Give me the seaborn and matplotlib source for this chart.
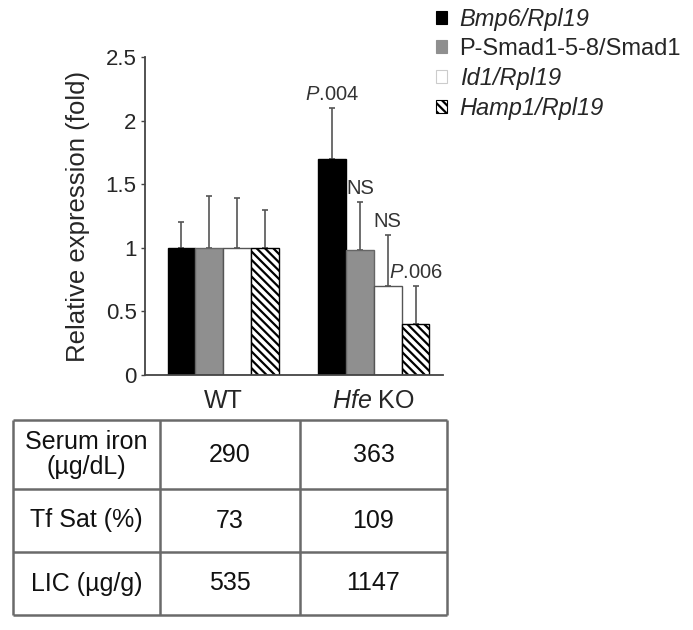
import numpy as np
import pandas as pd
import matplotlib
matplotlib.use("Agg")
import matplotlib.pyplot as plt
import seaborn as sns
from matplotlib.patches import Patch

# ---------------- data ----------------
groups = ["WT", "Hfe KO"]
group_labels = ["WT", r"$\mathit{Hfe}$ KO"]
genes = ["Bmp6/Rpl19", "P-Smad1-5-8/Smad1", "Id1/Rpl19", "Hamp1/Rpl19"]
gene_italic = [True, False, True, True]
wt_vals = [1.00, 1.00, 1.00, 1.00]
wt_err = [0.20, 0.41, 0.39, 0.30]
ko_vals = [1.70, 0.98, 0.70, 0.40]
ko_err = [0.40, 0.38, 0.40, 0.30]
ko_notes = [r"$\mathit{P}$.004", "NS", "NS", r"$\mathit{P}$.006"]
yticks = [0, 0.5, 1, 1.5, 2, 2.5]
ytick_labels = ["0", "0.5", "1", "1.5", "2", "2.5"]

table_rows = ["Serum iron\n(\u00b5g/dL)", "Tf Sat (%)", "LIC (\u00b5g/g)"]
table_wt = ["290", "73", "535"]
table_ko = ["363", "109", "1147"]

# ---------------- style ----------------
bar_colors = ["#000000", "#8f8f8f", "#ffffff", "#ffffff"]
bar_edges = ["#000000", "#666666", "#555555", "#000000"]
bar_hatches = [None, None, None, "\\\\\\\\"]
leg_edges = ["#000000", "#8f8f8f", "#cccccc", "#000000"]

sns.set_style("ticks")
plt.rcParams["font.family"] = ["Liberation Sans", "DejaVu Sans"]
plt.rcParams["mathtext.fontset"] = "custom"
plt.rcParams["mathtext.rm"] = "Liberation Sans"
plt.rcParams["mathtext.it"] = "Liberation Sans:italic"
plt.rcParams["hatch.linewidth"] = 1.6

W, H = 693, 630
fig = plt.figure(figsize=(W / 100, H / 100), dpi=100)
ax = fig.add_axes([145 / W, 1 - 375 / H, 298 / W, 318 / H])

df = pd.DataFrame({
    "group": np.repeat(groups, len(genes)),
    "gene": genes * len(groups),
    "value": wt_vals + ko_vals,
})

sns.barplot(data=df, x="group", y="value", hue="gene", hue_order=genes,
            order=groups, palette=dict(zip(genes, bar_colors)), width=0.74,
            errorbar=None, saturation=1, legend=False, ax=ax, linewidth=1.0)

errs = [wt_err, ko_err]
bar_containers = list(ax.containers)
for i, cont in enumerate(bar_containers):
    for j, bar in enumerate(cont.patches):
        bar.set_edgecolor(bar_edges[i])
        if bar_hatches[i]:
            bar.set_hatch(bar_hatches[i])
        x = bar.get_x() + bar.get_width() / 2
        y = bar.get_height()
        e = errs[j][i]
        ax.errorbar([x], [y], yerr=[[0], [e]], fmt="none", ecolor="#555555",
                    elinewidth=1.2, capsize=2.5, capthick=1.2, zorder=0.5)
        if j == 1:
            ax.annotate(ko_notes[i], (x, y + e), xytext=(0, 3),
                        textcoords="offset points", ha="center", va="bottom",
                        fontsize=14.5, color="#333333")

ax.set_ylim(0, 2.5)
ax.set_xlim(-0.52, 1.46)
ax.set_yticks(yticks)
ax.set_yticklabels(ytick_labels)
ax.set_xticks(range(len(groups)))
ax.set_xticklabels(group_labels, fontsize=18)
ax.set_xlabel("")
ax.set_ylabel("Relative expression (fold)", fontsize=18.5, labelpad=11)
ax.tick_params(axis="y", length=3, width=1, color="#444444", labelsize=16, pad=3)
ax.tick_params(axis="x", length=0, pad=10)
sns.despine(ax=ax)
for s in ["left", "bottom"]:
    ax.spines[s].set_color("#444444")
    ax.spines[s].set_linewidth(1.3)

# legend
handles = [Patch(facecolor=c, edgecolor=ec, hatch=h, linewidth=0.8)
           for c, ec, h in zip(bar_colors, leg_edges, bar_hatches)]
leg = fig.legend(handles, genes, loc="upper left",
                 bbox_to_anchor=(436 / W, 1 - 8 / H), frameon=False, fontsize=17,
                 handlelength=0.45, handleheight=0.45, handletextpad=0.55,
                 labelspacing=0.3, borderpad=0, borderaxespad=0)
for t, it in zip(leg.get_texts(), gene_italic):
    if it:
        t.set_fontstyle("italic")

# table
tab = fig.add_axes([13 / W, 1 - 615 / H, 434 / W, 195 / H])
tab.set_xlim(0, 1)
tab.set_ylim(0, 1)
tab.axis("off")
col_w = np.array([147, 140, 147], float)
row_h = np.array([69, 63, 63], float)
xb = np.concatenate([[0], np.cumsum(col_w)]) / col_w.sum()
yb = 1 - np.concatenate([[0], np.cumsum(row_h)]) / row_h.sum()
lc = "#6a6a6a"
tab.hlines(yb, 0, 1, colors=lc, linewidth=1.8, clip_on=False)
tab.vlines(xb, 0, 1, colors=lc, linewidth=1.8, clip_on=False)
for r in range(len(table_rows)):
    yc = (yb[r] + yb[r + 1]) / 2
    for c, txt in enumerate([table_rows[r], table_wt[r], table_ko[r]]):
        xc = (xb[c] + xb[c + 1]) / 2
        tab.text(xc, yc, txt, ha="center", va="center", fontsize=18,
                 color="#111111", linespacing=1.1)

fig.savefig("out.png", dpi=100)
